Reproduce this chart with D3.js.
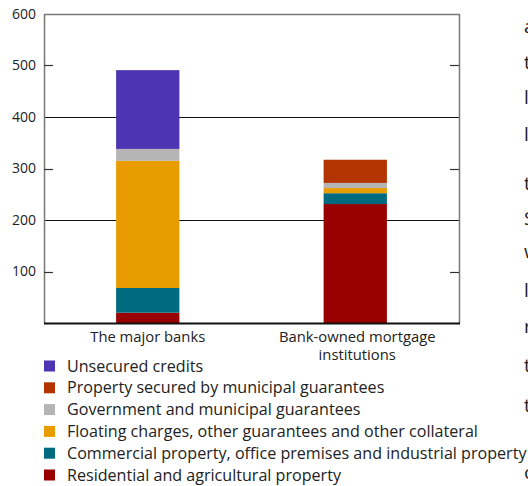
<!DOCTYPE html>
<html>
<head>
<meta charset="utf-8">
<script src="https://cdn.jsdelivr.net/npm/d3@7"></script>
<style>
  html, body { margin: 0; padding: 0; background: #fff; overflow: hidden; }
  svg { display: block; }
  text { font-family: "Open Sans", sans-serif; fill: #222; }
</style>
</head>
<body>
<svg id="chart" width="528" height="486"></svg>
<script>
// ---- data ----
const categories = ["The major banks", "Bank-owned mortgage institutions"];
const categoryLines = [["The major banks"], ["Bank-owned mortgage", "institutions"]];
const seriesNames = [
  "Residential and agricultural property",
  "Commercial property, office premises and industrial property",
  "Floating charges, other guarantees and other collateral",
  "Government and municipal guarantees",
  "Property secured by municipal guarantees",
  "Unsecured credits"
];
const residential = [20, 231];
const commercial = [48, 21];
const floating = [247, 10];
const government = [23, 10];
const propertyMunicipal = [0, 45];
const unsecured = [153, 0];
const yTicks = [100, 200, 300, 400, 500, 600];
const gridValues = [200, 400];
const tickOnlyValues = [100, 300, 500];
const seriesColors = ["#990000", "#006a80", "#e89c00", "#b5b5b5", "#b33400", "#4d34b3"];
const sideLetters = ["a", "t", "l", "l", "t", "S", "w", "l", "r", "t", "t", "c"];
const sideLetterY = [33, 69, 104, 141, 190, 225, 258, 297, 333, 372, 412, 479];

// ---- build ----
const seriesValues = [residential, commercial, floating, government, propertyMunicipal, unsecured];
const table = categories.map((c, i) => {
  const row = { category: c };
  seriesNames.forEach((s, k) => row[s] = seriesValues[k][i]);
  return row;
});

const svg = d3.select("#chart");
const pLeft = 44, pRight = 459, pTop = 14, pBottom = 323;

const x = d3.scaleBand().domain(categories).range([pLeft, pRight]).padding(0);
const y = d3.scaleLinear().domain([0, 600]).range([pBottom, pTop]);
const color = d3.scaleOrdinal().domain(seriesNames).range(seriesColors);
const barW = x.bandwidth() * 0.305;

// gridlines (behind bars)
svg.append("g").selectAll("line").data(gridValues).join("line")
  .attr("x1", pLeft).attr("x2", pRight)
  .attr("y1", d => Math.round(y(d)) + 0.5).attr("y2", d => Math.round(y(d)) + 0.5)
  .attr("stroke", "#111").attr("stroke-width", 1.2);

// bars
const stack = d3.stack().keys(seriesNames)(table);
svg.append("g").selectAll("g").data(stack).join("g")
  .attr("fill", d => color(d.key))
  .selectAll("rect").data(d => d).join("rect")
  .attr("x", d => x(d.data.category) + x.bandwidth() / 2 - barW / 2)
  .attr("width", barW)
  .attr("y", d => y(d[1]))
  .attr("height", d => Math.max(0, y(d[0]) - y(d[1])));

// frame
const frame = svg.append("g");
frame.append("line").attr("x1", pLeft + 0.5).attr("x2", pLeft + 0.5).attr("y1", pTop).attr("y2", pBottom)
  .attr("stroke", "#777").attr("stroke-width", 1.5);
frame.append("line").attr("x1", pRight + 0.5).attr("x2", pRight + 0.5).attr("y1", pTop).attr("y2", pBottom)
  .attr("stroke", "#777").attr("stroke-width", 1.5);
frame.append("line").attr("x1", pLeft).attr("x2", pRight + 1).attr("y1", pTop + 0.5).attr("y2", pTop + 0.5)
  .attr("stroke", "#777").attr("stroke-width", 1.5);
frame.append("line").attr("x1", pLeft).attr("x2", pRight + 1).attr("y1", pBottom + 0.5).attr("y2", pBottom + 0.5)
  .attr("stroke", "#111").attr("stroke-width", 2);

// inner ticks both sides
const tk = svg.append("g");
tk.selectAll("line.l").data(tickOnlyValues).join("line").attr("class", "l")
  .attr("x1", pLeft).attr("x2", pLeft + 9)
  .attr("y1", d => Math.round(y(d)) + 0.5).attr("y2", d => Math.round(y(d)) + 0.5)
  .attr("stroke", "#333").attr("stroke-width", 1.2);
tk.selectAll("line.r").data(tickOnlyValues).join("line").attr("class", "r")
  .attr("x1", pRight - 9).attr("x2", pRight)
  .attr("y1", d => Math.round(y(d)) + 0.5).attr("y2", d => Math.round(y(d)) + 0.5)
  .attr("stroke", "#333").attr("stroke-width", 1.2);

// y axis labels
const yAxis = d3.axisLeft(y).tickValues(yTicks).tickSize(0).tickPadding(8);
const ya = svg.append("g").attr("transform", `translate(${pLeft},0)`).call(yAxis);
ya.select(".domain").remove();
ya.selectAll("text").attr("font-size", 14).attr("font-family", "Open Sans, sans-serif").attr("fill", "#222");

// category labels (multi-line via tspans)
const xl = svg.append("g");
categories.forEach((c, ci) => {
  const cx = x(c) + x.bandwidth() / 2 + (ci === 1 ? 2 : 0);
  const t = xl.append("text").attr("x", cx).attr("y", 342)
    .attr("text-anchor", "middle").attr("font-size", 14.8);
  categoryLines[ci].forEach((ln, i) => {
    t.append("tspan").attr("x", cx).attr("dy", i === 0 ? 0 : 17.5).text(ln);
  });
});

// legend
const legendOrder = seriesNames.slice().reverse();
const lg = svg.append("g");
legendOrder.forEach((s, i) => {
  const cy = 366 + i * 21.8;
  lg.append("rect").attr("x", 44).attr("y", cy - 5.5).attr("width", 11).attr("height", 11).attr("fill", color(s));
  lg.append("text").attr("x", 67).attr("y", cy + 5.5).attr("font-size", 16.1).text(s);
});

// clipped body text on right edge
svg.append("g").selectAll("text").data(sideLetters).join("text")
  .attr("x", 524).attr("y", (d, i) => sideLetterY[i])
  .attr("font-size", 19).attr("fill", "#222").text(d => d);
</script>
</body>
</html>
